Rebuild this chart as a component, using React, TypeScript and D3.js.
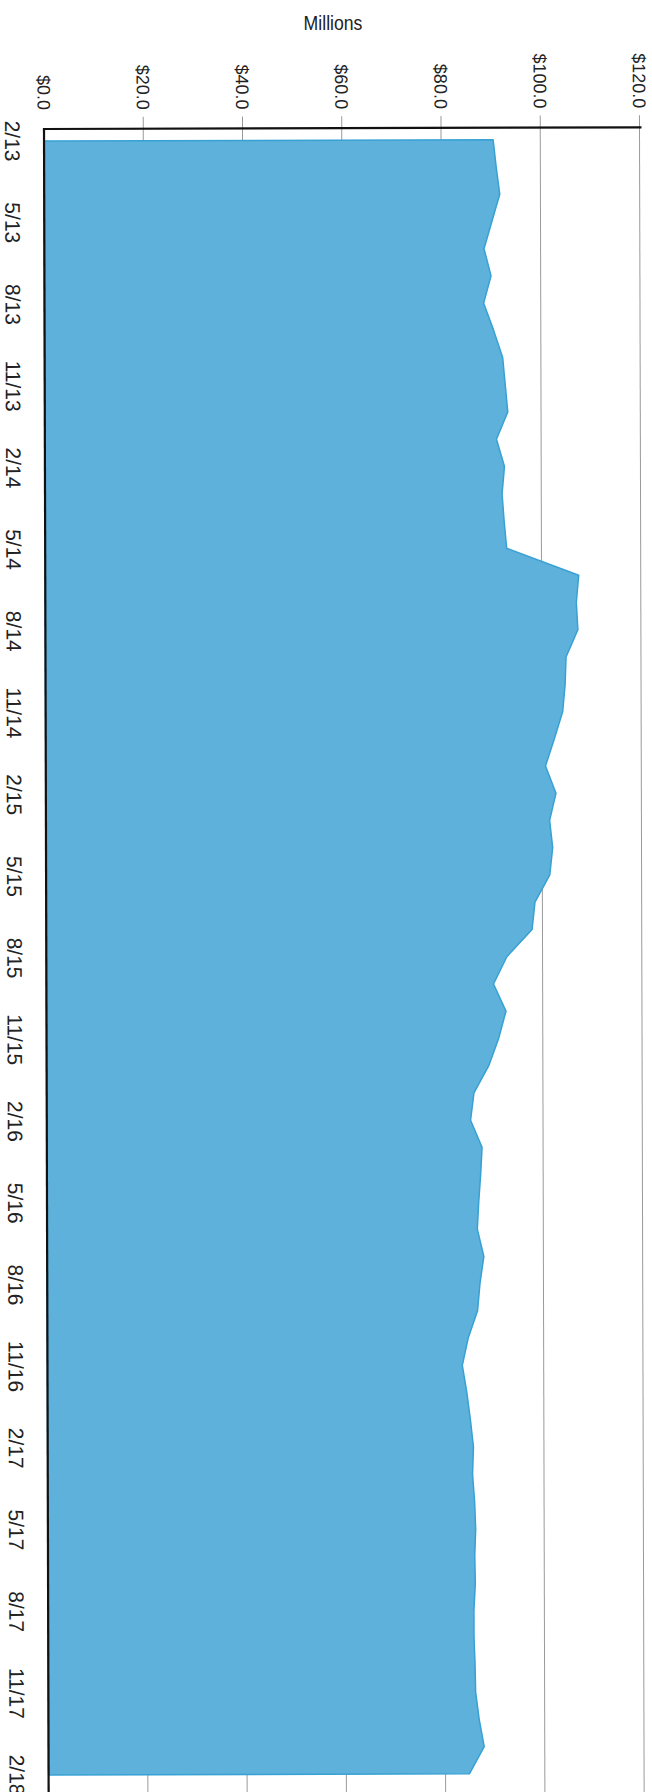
import * as React from "react";
import * as d3 from "d3";

// monthly values, Feb 2013 .. Feb 2018 (millions)
const values = [
  90.5, 91.1, 91.8, 90.2, 88.6, 90.0, 88.5, 90.5, 92.3, 92.8, 93.3, 91.0,
  92.6, 92.1, 92.5, 93.0, 107.5, 107.0, 107.3, 104.9, 104.7, 104.2, 102.5, 100.7,
  102.8, 101.5, 102.1, 101.5, 98.5, 97.9, 92.8, 90.1, 92.6, 91.1, 89.1, 86.1,
  85.4, 87.7, 87.4, 87.0, 86.7, 88.0, 87.2, 86.7, 84.8, 83.6, 84.5, 85.2,
  85.8, 85.6, 86.0, 86.2, 86.0, 86.1, 85.8, 85.8, 86.0, 86.1, 86.8, 87.8,
  84.8,
];

// quarterly category labels
const quarterLabels = [
  "2/13", "5/13", "8/13", "11/13",
  "2/14", "5/14", "8/14", "11/14",
  "2/15", "5/15", "8/15", "11/15",
  "2/16", "5/16", "8/16", "11/16",
  "2/17", "5/17", "8/17", "11/17",
  "2/18",
];

const valueTicks = [0, 20, 40, 60, 80, 100, 120];

const W = 652;
const H = 1792;

export default function App() {
  // the page is printed sideways: values run left -> right, time runs top -> bottom
  const x = d3.scaleLinear().domain([0, 120]).range([44, 639.5]);
  const y = d3.scaleLinear().domain([0, values.length - 1]).range([141, 1775]);
  const axisY = 129;

  const area = d3
    .area<number>()
    .y((_, i) => y(i))
    .x0(x(0))
    .x1((d) => x(d))
    .curve(d3.curveLinear);

  const font = "'Liberation Sans', Arial, sans-serif";

  return (
    <svg
      width={W}
      height={H}
      viewBox={`0 0 ${W} ${H}`}
      style={{ position: "absolute", left: 0, top: 0, background: "#fff" }}
    >
      {/* axis title, slightly condensed */}
      <text
        transform="translate(333, 30) scale(0.84, 1)"
        textAnchor="middle"
        fontFamily={font}
        fontSize={21}
        fill="#222"
      >
        Millions
      </text>

      <g transform={`rotate(-0.16, ${x(0)}, ${axisY})`}>
        {/* gridlines */}
        {valueTicks
          .filter((t) => t > 0)
          .map((t) => (
            <line
              key={t}
              x1={x(t)}
              x2={x(t)}
              y1={axisY - 12}
              y2={H + 10}
              stroke="#9a9a9a"
              strokeWidth={1}
            />
          ))}

        {/* value labels, rotated */}
        {valueTicks.map((t) => (
          <text
            key={t}
            transform={`translate(${x(t) - 6.5}, ${axisY - 19}) rotate(90)`}
            textAnchor="end"
            fontFamily={font}
            fontSize={18}
            fill="#222"
          >
            {"$" + t.toFixed(1)}
          </text>
        ))}

        {/* area */}
        <path
          d={area(values) ?? ""}
          fill="#5db1da"
          stroke="#38a1d4"
          strokeWidth={1.5}
          strokeLinejoin="round"
        />

        {/* axes */}
        <line x1={x(0)} x2={x(120) + 2} y1={axisY} y2={axisY} stroke="#111" strokeWidth={2.2} />
        <line x1={x(0)} x2={x(0)} y1={axisY - 1} y2={H + 10} stroke="#111" strokeWidth={2.2} />

        {/* category labels, rotated */}
        {quarterLabels.map((lab, i) => (
          <text
            key={lab}
            transform={`translate(5, ${y(i * 3)}) rotate(90)`}
            textAnchor="middle"
            fontFamily={font}
            fontSize={21}
            fill="#222"
          >
            {lab}
          </text>
        ))}
      </g>
    </svg>
  );
}
